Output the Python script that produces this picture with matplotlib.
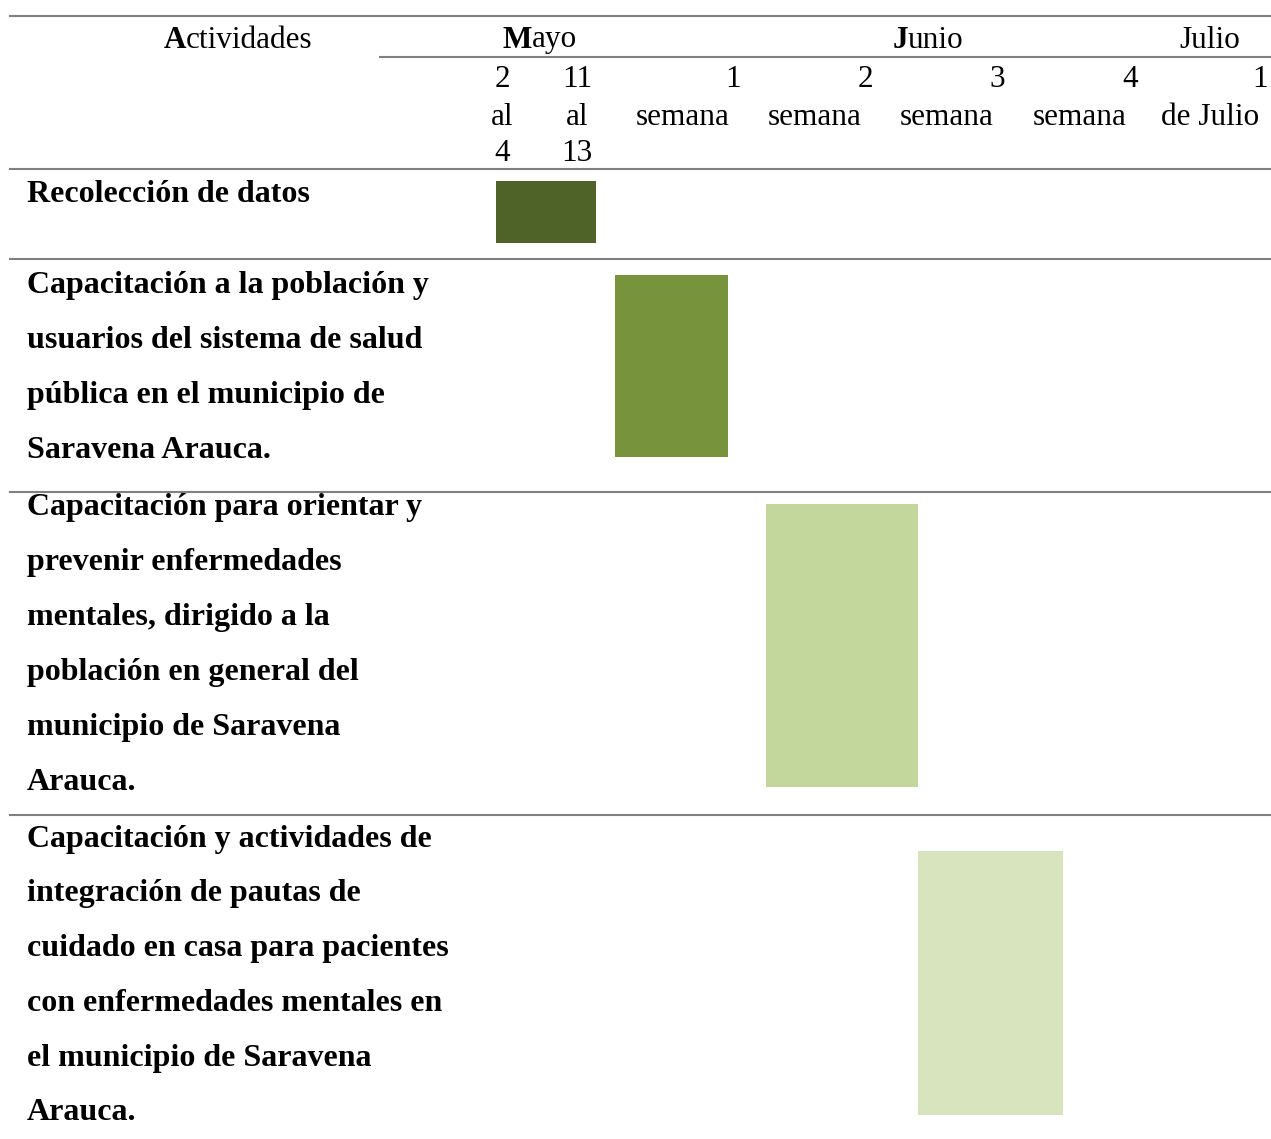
import numpy as np
import matplotlib.pyplot as plt

plt.rcParams['font.family'] = ['Liberation Serif', 'DejaVu Serif']

# Datos del cronograma
actividades = [
    "Recolección de datos",
    "Capacitación a la población y\nusuarios del sistema de salud\npública en el municipio de\nSaravena Arauca.",
    "Capacitación para orientar y\nprevenir enfermedades\nmentales, dirigido a la\npoblación en general del\nmunicipio de Saravena\nArauca.",
    "Capacitación y actividades de\nintegración de pautas de\ncuidado en casa para pacientes\ncon enfermedades mentales en\nel municipio de Saravena\nArauca.",
]
meses = [("M", "ayo"), ("J", "unio"), ("", "Julio")]
periodos = ["2\nal\n4", "11\nal\n13", "1\nsemana", "2\nsemana", "3\nsemana", "4\nsemana", "1\nde Julio"]
# inicio y fin de cada actividad, en unidades de periodo (columna)
inicio = [0.41, 2.0, 3.14, 4.29]
fin = [1.75, 2.85, 4.29, 5.39]
colores = ['#4F6228', '#77933C', '#C3D69B', '#D7E4BD']

# Layout (pixeles)
W, H = 1271, 1139
col_edges = [465, 540, 615, 748, 880, 1012, 1144, 1271]
col_centers = [502, 577, 683, 815, 947, 1080, 1210]
mes_x = [540, 928, 1210]
row_edges = [169, 259, 492, 815, 1139]
row_base = [201.5, 293.5, 515.5, 846.5]
bar_pad = [(12, 16), (16, 35), (12, 28), (36, 24)]
line_gap = 54.8
line_col = '#808080'
fs = 22.5
fs_b = 23

fig = plt.figure(figsize=(W / 100, H / 100), dpi=100)
ax = fig.add_axes([0, 0, 1, 1])
ax.set_xlim(0, W)
ax.set_ylim(H, 0)
ax.axis('off')
renderer = fig.canvas.get_renderer()

# lineas de la tabla
ax.plot([10, W], [16, 16], color=line_col, lw=1.5)
ax.plot([380, W], [57, 57], color=line_col, lw=1.5)
for y in row_edges[:-1]:
    ax.plot([10, W], [y, y], color=line_col, lw=1.5)


def mixed(cx, y, bold, rest):
    # primera letra en negrita, resto normal, centrado en cx
    tb = ax.text(0, y, bold, va='baseline', fontsize=fs, fontweight='bold')
    tr = ax.text(0, y, rest, va='baseline', fontsize=fs)
    wb = tb.get_window_extent(renderer).width if bold else 0
    wr = tr.get_window_extent(renderer).width
    x0 = cx - (wb + wr) / 2
    tb.set_x(x0)
    tr.set_x(x0 + wb)


# encabezados
mixed(238, 47.5, "A", "ctividades")
for (b, rest), x in zip(meses, mes_x):
    mixed(x, 47.5, b, rest)

sub_y = [87, 125, 161]
for i, p in enumerate(periodos):
    parts = p.split("\n")
    cx = col_centers[i]
    if len(parts) == 3:
        for j, s in enumerate(parts):
            ax.text(cx, sub_y[j], s, ha='center', va='baseline', fontsize=fs)
    else:
        ax.text(cx + 58, sub_y[0], parts[0], ha='right', va='baseline', fontsize=fs)
        ax.text(cx, sub_y[1], parts[1], ha='center', va='baseline', fontsize=fs)

# actividades y barras
for k, act in enumerate(actividades):
    for j, s in enumerate(act.split("\n")):
        ax.text(27, row_base[k] + j * line_gap, s, ha='left', va='baseline',
                fontsize=fs_b, fontweight='bold')
    x0 = np.interp(inicio[k], np.arange(len(col_edges)), col_edges)
    x1 = np.interp(fin[k], np.arange(len(col_edges)), col_edges)
    y0 = row_edges[k] + bar_pad[k][0]
    y1 = row_edges[k + 1] - bar_pad[k][1]
    ax.bar(x0, y1 - y0, width=x1 - x0, bottom=y0, align='edge', color=colores[k])

fig.savefig('out.png', dpi=100)
